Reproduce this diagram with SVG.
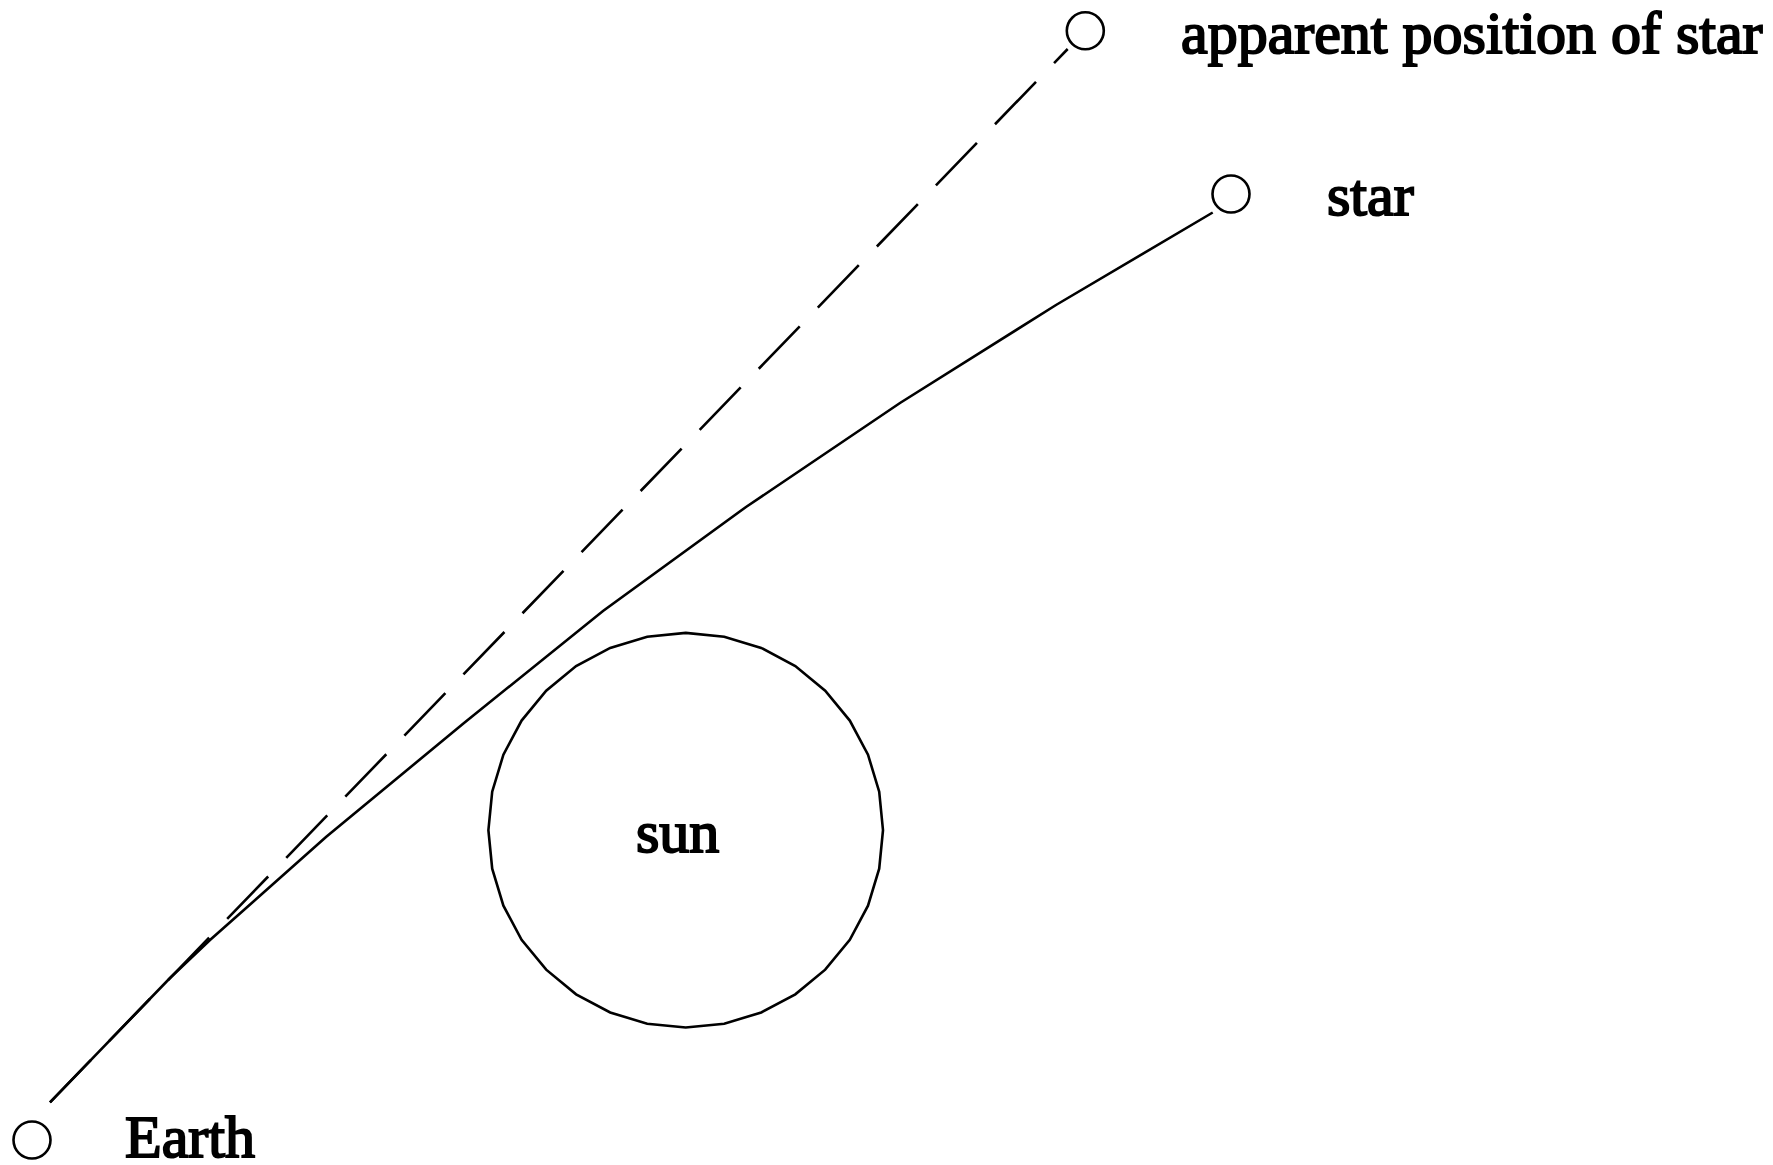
<svg xmlns="http://www.w3.org/2000/svg" width="1773" height="1165" viewBox="0 0 1773 1165">
<style>
.ln{fill:none;stroke:#000;stroke-width:2.6;stroke-linejoin:miter}
.dash{stroke-dasharray:59 26}
.pt{fill:#fff;stroke:#000;stroke-width:2.6}
.lbl{font-family:"Liberation Serif","Times New Roman",serif;font-size:60px;fill:#000;stroke:#000;stroke-width:2}
</style>
<rect width="1773" height="1165" fill="#fff"/>
<g id="connectors">
<line id="apparent-ray" class="ln dash" x1="50" y1="1102.3" x2="1067.7" y2="49"/>
<polyline id="true-ray" class="ln" points="50,1102.3 170,978 210,940 326,837 464,723 603,611 746,507 900,403 1056,305 1212.7,212.5"/>
</g>
<g id="sun">
<polygon class="ln" points="685.7,632.9 724.2,636.7 761.2,647.9 795.3,666.1 825.2,690.7 849.8,720.6 868.0,754.7 879.2,791.7 883.0,830.2 879.2,868.7 868.0,905.7 849.8,939.8 825.2,969.7 795.3,994.3 761.2,1012.5 724.2,1023.7 685.7,1027.5 647.2,1023.7 610.2,1012.5 576.1,994.3 546.2,969.7 521.6,939.8 503.4,905.7 492.2,868.7 488.4,830.2 492.2,791.7 503.4,754.7 521.6,720.6 546.2,690.7 576.1,666.1 610.2,647.9 647.2,636.7"/>
<text class="lbl" x="636" y="852">sun</text>
</g>
<g id="earth">
<circle class="pt" cx="32" cy="1140" r="18.5"/>
<text class="lbl" x="125" y="1157">Earth</text>
</g>
<g id="star">
<circle class="pt" cx="1231" cy="194" r="18.5"/>
<text class="lbl" x="1327" y="215">star</text>
</g>
<g id="apparent-star">
<circle class="pt" cx="1085.3" cy="30.8" r="18.5"/>
<text class="lbl" x="1181" y="53">apparent position of star</text>
</g>
</svg>
